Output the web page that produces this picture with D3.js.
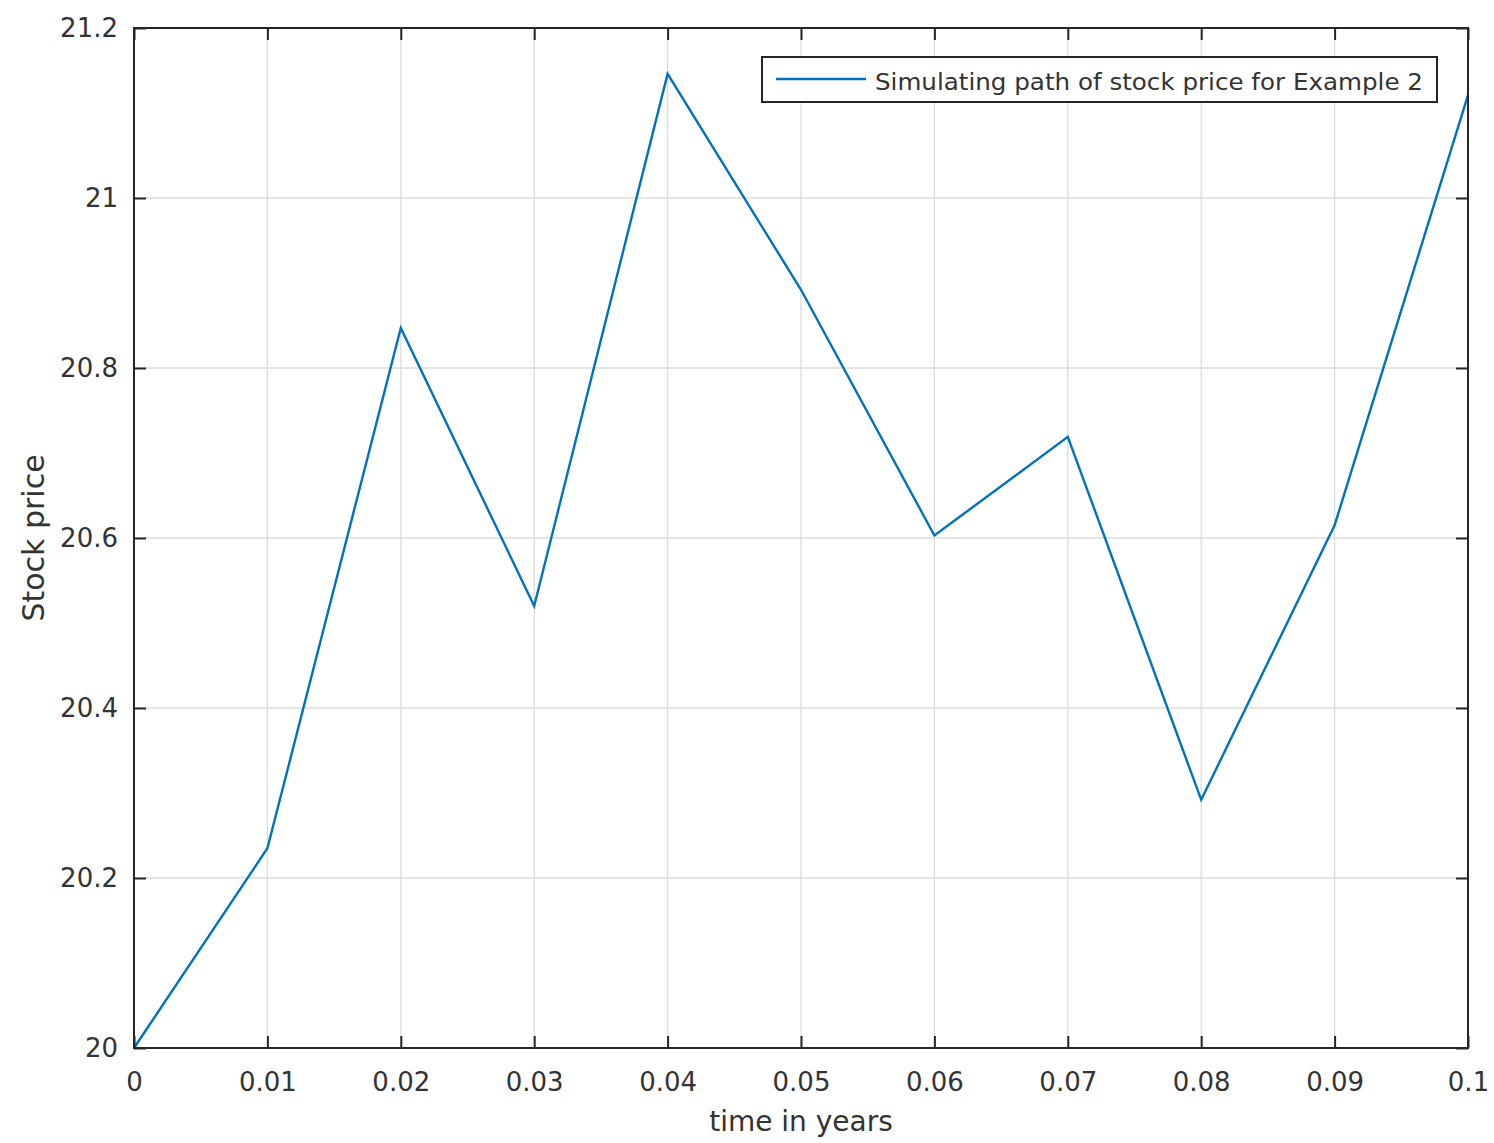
<!DOCTYPE html>
<html><head><meta charset="utf-8">
<script src="https://cdn.jsdelivr.net/npm/d3@7"></script>
<style>body{margin:0;background:#fff;} text{font-family:"DejaVu Sans",sans-serif;}</style>
</head><body>
<svg id="c" width="1494" height="1143"></svg>
<script>
const times = [0, 0.01, 0.02, 0.03, 0.04, 0.05, 0.06, 0.07, 0.08, 0.09, 0.1];
const prices = [20.0, 20.235, 20.847, 20.52, 21.146, 20.892, 20.603, 20.719, 20.292, 20.615, 21.121];
const xTicks = [0, 0.01, 0.02, 0.03, 0.04, 0.05, 0.06, 0.07, 0.08, 0.09, 0.1];
const xTickLabels = ["0","0.01","0.02","0.03","0.04","0.05","0.06","0.07","0.08","0.09","0.1"];
const yTicks = [20, 20.2, 20.4, 20.6, 20.8, 21, 21.2];
const yTickLabels = ["20","20.2","20.4","20.6","20.8","21","21.2"];
const seriesName = "Simulating path of stock price for Example 2";

const L = 134, R = 1468, T = 28, B = 1048;
const svg = d3.select("#c");
const x = d3.scaleLinear().domain([0, 0.1]).range([L, R]);
const y = d3.scaleLinear().domain([20, 21.2]).range([B, T]);
const txt = "#333333", gridC = "#dcdcdc", axC = "#262626";

// grid
svg.append("g").selectAll("line").data(xTicks).join("line")
  .attr("x1", d => x(d)).attr("x2", d => x(d)).attr("y1", T).attr("y2", B)
  .attr("stroke", gridC).attr("stroke-width", 1.3);
svg.append("g").selectAll("line").data(yTicks).join("line")
  .attr("x1", L).attr("x2", R).attr("y1", d => y(d)).attr("y2", d => y(d))
  .attr("stroke", gridC).attr("stroke-width", 1.3);

// line
svg.append("path").datum(times.map((t, i) => [t, prices[i]]))
  .attr("fill", "none").attr("stroke", "#0072BD").attr("stroke-width", 2.4)
  .attr("d", d3.line().x(d => x(d[0])).y(d => y(d[1])));

// axes (inward ticks, box)
const tl = 12;
const fmtX = (d, i) => xTickLabels[i];
const fmtY = (d, i) => yTickLabels[i];
function styleAxis(g) {
  g.select(".domain").remove();
  g.selectAll(".tick line").attr("stroke", axC).attr("stroke-width", 2);
  g.selectAll(".tick text").attr("fill", txt).attr("font-size", 26);
}
const gb = svg.append("g").attr("transform", `translate(0,${B})`)
  .call(d3.axisBottom(x).tickValues(xTicks).tickFormat(fmtX).tickSizeInner(-tl).tickSizeOuter(0).tickPadding(22));
styleAxis(gb);
gb.selectAll(".tick text").attr("dy", null).attr("y", 43);
const gt = svg.append("g").attr("transform", `translate(0,${T})`)
  .call(d3.axisTop(x).tickValues(xTicks).tickFormat("").tickSizeInner(-tl).tickSizeOuter(0));
styleAxis(gt);
const gl = svg.append("g").attr("transform", `translate(${L},0)`)
  .call(d3.axisLeft(y).tickValues(yTicks).tickFormat(fmtY).tickSizeInner(-tl).tickSizeOuter(0));
styleAxis(gl);
gl.selectAll(".tick text").attr("x", -16);
const gr = svg.append("g").attr("transform", `translate(${R},0)`)
  .call(d3.axisRight(y).tickValues(yTicks).tickFormat("").tickSizeInner(-tl).tickSizeOuter(0));
styleAxis(gr);

svg.append("rect").attr("x", L).attr("y", T).attr("width", R - L).attr("height", B - T)
  .attr("fill", "none").attr("stroke", axC).attr("stroke-width", 2);

// axis labels
svg.append("text").attr("x", (L + R) / 2).attr("y", 1131).attr("text-anchor", "middle")
  .attr("fill", txt).attr("font-size", 28).text("time in years");
svg.append("text").attr("transform", `translate(44,${(T + B) / 2}) rotate(-90)`).attr("text-anchor", "middle")
  .attr("fill", txt).attr("font-size", 30).text("Stock price");

// legend
const lg = svg.append("g");
lg.append("rect").attr("x", 762).attr("y", 57).attr("width", 675).attr("height", 45)
  .attr("fill", "#fff").attr("stroke", axC).attr("stroke-width", 2);
lg.append("line").attr("x1", 776).attr("x2", 866).attr("y1", 79).attr("y2", 79)
  .attr("stroke", "#0072BD").attr("stroke-width", 2.4);
lg.append("text").attr("x", 875).attr("y", 90).attr("fill", txt).attr("font-size", 23)
  .attr("textLength", 548).attr("lengthAdjust", "spacingAndGlyphs").text(seriesName);
</script>
</body></html>
